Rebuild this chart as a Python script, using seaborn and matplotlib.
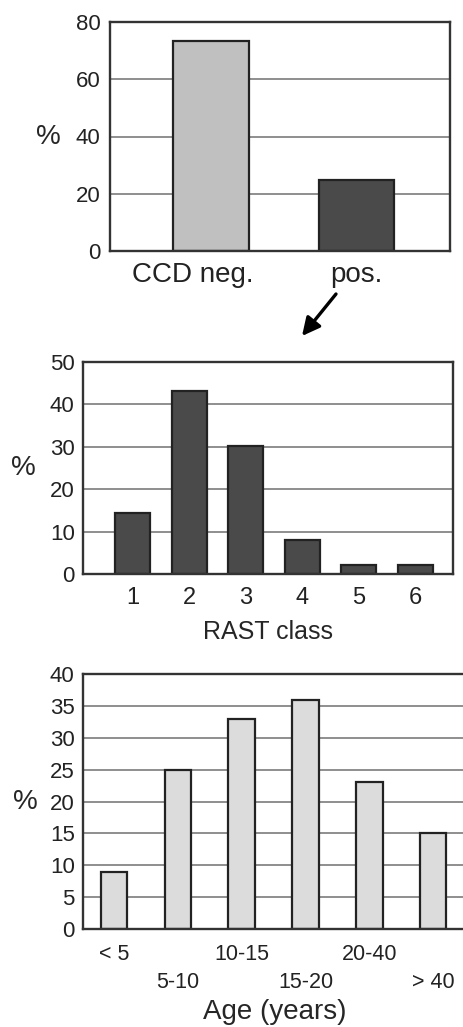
import matplotlib
matplotlib.use('Agg')
import matplotlib.pyplot as plt
import matplotlib.transforms as mtransforms
import seaborn as sns
import pandas as pd

# Data
ccd_labels = ['CCD neg.', 'pos.']
ccd_values = [73.5, 24.7]

rast_labels = ['1', '2', '3', '4', '5', '6']
rast_values = [14.4, 43.1, 30.2, 8.0, 2.1, 2.1]

age_labels = ['< 5', '5-10', '10-15', '15-20', '20-40', '> 40']
age_values = [9.0, 25.0, 33.0, 36.0, 23.0, 15.0]

sns.set_theme(style="white")
plt.rcParams['font.family'] = ['Liberation Sans', 'DejaVu Sans']
plt.rcParams['text.color'] = '#222222'
plt.rcParams['xtick.color'] = '#222222'
plt.rcParams['ytick.color'] = '#222222'

W, H = 463, 1027
fig = plt.figure(figsize=(W / 100, H / 100), dpi=100)


def px_axes(left, right, top, bottom):
    return fig.add_axes([left / W, 1 - bottom / H, (right - left) / W, (bottom - top) / H])


def style_axes(ax, yticks, ymax, tick_fs, ypad):
    ax.set_ylim(0, ymax)
    ax.set_yticks(yticks)
    ax.tick_params(axis='y', length=0, labelsize=tick_fs, pad=ypad)
    ax.yaxis.grid(True, color='#707070', linewidth=1.1)
    ax.set_axisbelow(True)
    for s in ax.spines.values():
        s.set_visible(True)
        s.set_color('#333333')
        s.set_linewidth(1.7)
    ax.set_xlabel('')


edge = '#222222'

# Panel 1: CCD
ax1 = px_axes(110, 450, 22, 251)
df1 = pd.DataFrame({'cat': ccd_labels, 'val': ccd_values})
sns.barplot(data=df1, x='cat', y='val', hue='cat', palette=['#c0c0c0', '#4a4a4a'],
            width=0.52, edgecolor=edge, linewidth=1.6, legend=False, ax=ax1)
ax1.set_xlim(-0.694, 1.643)
style_axes(ax1, [0, 20, 40, 60, 80], 80, 16, 7)
ax1.tick_params(axis='x', length=0, labelsize=20, pad=8)
ax1.set_ylabel('%', rotation=0, fontsize=20, ha='center', va='center')
ax1.yaxis.set_label_coords(-0.182, 0.5)
lab = ax1.get_xticklabels()[0]
lab.set_transform(lab.get_transform() + mtransforms.ScaledTranslation(-0.18, 0, fig.dpi_scale_trans))

# Arrow from "pos." down to the RAST panel
ax1.annotate('', xy=(302 / W, 1 - 336 / H), xytext=(336 / W, 1 - 294 / H),
             xycoords='figure fraction', textcoords='figure fraction',
             arrowprops=dict(arrowstyle='-|>,head_length=0.9,head_width=0.45',
                             color='black', lw=2.4, shrinkA=0, shrinkB=0))

# Panel 2: RAST class
ax2 = px_axes(83, 453, 362, 574)
df2 = pd.DataFrame({'cat': rast_labels, 'val': rast_values})
sns.barplot(data=df2, x='cat', y='val', color='#4a4a4a', saturation=1,
            width=0.62, edgecolor=edge, linewidth=1.6, ax=ax2)
ax2.set_xlim(-0.876, 5.67)
style_axes(ax2, [0, 10, 20, 30, 40, 50], 50, 16, 6)
ax2.tick_params(axis='x', length=0, labelsize=17, pad=9)
ax2.set_xlabel('RAST class', fontsize=18, labelpad=8)
ax2.set_ylabel('%', rotation=0, fontsize=20, ha='center', va='center')
ax2.yaxis.set_label_coords(-0.162, 0.5)

# Panel 3: Age
ax3 = px_axes(83, 466, 674, 929)
df3 = pd.DataFrame({'cat': age_labels, 'val': age_values})
sns.barplot(data=df3, x='cat', y='val', color='#dcdcdc', saturation=1,
            width=0.41, edgecolor=edge, linewidth=1.6, ax=ax3)
ax3.set_xlim(-0.48, 5.51)
style_axes(ax3, list(range(0, 45, 5)), 40, 16, 6)
ax3.set_xticks(range(len(age_labels)))
ax3.set_xticklabels([l if i % 2 == 0 else '\n' + l for i, l in enumerate(age_labels)])
for t in ax3.get_xticklabels():
    t.set_linespacing(1.45)
ax3.tick_params(axis='x', length=4, width=1.3, color='#333333', direction='out',
                labelsize=15.5, pad=7)
ax3.set_xlabel('Age (years)', fontsize=20, labelpad=4)
ax3.set_ylabel('%', rotation=0, fontsize=20, ha='center', va='center')
ax3.yaxis.set_label_coords(-0.151, 0.5)
ax3.spines['right'].set_visible(False)

fig.savefig('out.png', dpi=100)
